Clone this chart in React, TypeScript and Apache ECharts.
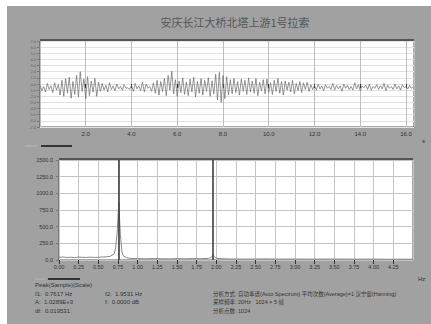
import React, { useEffect, useRef } from "react";
import * as echarts from "echarts";

const titleText = "安庆长江大桥北塔上游1号拉索";

// time signal (sampled every sampleInterval seconds)
const sampleInterval = 0.08;
const timeSignal = [
  -0.2, -1.1, -0.4, -1.3, 0.1, -0.9, -0.3, -1.4, 0.2, -1.0, -0.1,
  -1.8, 0.6, -2.0, 0.9, -1.5, 1.1, -2.3, 0.4, -1.7, 1.4, -2.1, 2.0, -1.2, 0.8, -2.4, 1.2, -1.9, 0.5, -1.3, 0.9, -2.0, 0.3,
  -1.2, 0.1, -1.0, -0.2, -1.3, 0.2, -0.9, -0.3, -1.1, 0.0, -0.8, -0.4, -1.0, -0.1, -0.7, -0.6, -0.9, -0.2, -1.2, 0.1, -0.8, -0.3, -1.1, 0.3, -1.3, 0.0, -0.7, -0.4, -1.2, 0.2,
  -1.5, 0.6, -1.8, 0.4, -1.2, 0.9, -1.9, 1.4, -1.0, 2.1, -1.6, 0.7, -2.0, 0.5, -1.4, 1.0, -1.7, 0.3, -1.9, 0.8, -1.3, 1.1, -2.1, 0.4, -1.5, 0.9, -1.8, 0.6, -1.2, 1.0, -2.0, 0.5, -1.6,
  1.6, -2.6, 1.9, -3.0, 1.4, -2.4, 1.2, -1.8,
  0.7, -1.6, 0.9, -1.4, 0.4, -1.8, 0.8, -1.2, 0.6, -1.7, 1.0, -1.3, 0.5, -1.5, 0.9, -1.9, 0.3, -1.1, 0.7, -1.6, 0.8, -1.4, 0.2, -1.7, 0.6, -1.2, 0.9, -1.5, 0.4, -1.8, 0.5, -1.0, 0.3, -1.3, 0.6, -1.6, 0.1, -1.1, 0.4, -1.4, 0.2, -0.9, 0.3, -1.2,
  -0.1, -0.9, -0.2, -1.0, 0.0, -0.8, -0.3, -1.1, -0.1, -0.7, -0.4, -0.9, 0.1, -1.0, -0.2, -0.8, -0.3, -1.2, 0.0, -0.7, -0.2, -0.9, -0.4, -1.0, 0.2, -0.8, -0.1, -1.1, -0.3, -0.6, -0.2, -0.9, 0.0, -1.0, -0.4, -0.7, -0.1, -0.9, -0.3, -0.8, 0.1, -1.1, -0.2, -0.7, -0.4, -0.9, 0.0, -0.8, -0.3, -1.0, -0.1, -0.6, -0.4, -0.8, -0.2, -0.7, -0.5,
];

// spectrum
const spectrumFreq = [
  0.0, 0.05, 0.1, 0.15, 0.2, 0.25, 0.3, 0.35, 0.4, 0.45, 0.5, 0.55, 0.6, 0.65, 0.7, 0.72, 0.74, 0.76, 0.78, 0.8, 0.82, 0.86,
  0.9, 1.0, 1.1, 1.2, 1.3, 1.4, 1.5, 1.6, 1.7, 1.8, 1.9, 1.94, 1.96, 1.98, 2.02, 2.1, 2.2, 2.4, 2.6, 2.8, 3.0, 3.2, 3.4, 3.6,
  3.8, 4.0, 4.2, 4.4, 4.5,
];
const spectrumAmp = [
  40, 45, 38, 42, 36, 44, 40, 38, 43, 39, 41, 45, 48, 55, 90, 180, 420, 860, 380, 120, 60, 35,
  25, 20, 18, 22, 19, 17, 20, 18, 21, 19, 24, 45, 70, 40, 22, 18, 15, 14, 16, 13, 15, 12, 14, 13,
  12, 13, 11, 12, 11,
];
const cursorFreqs = [0.7617, 1.9531];

const topXTicks = { min: 0, max: 16.35, interval: 2 };
const topYTicks = { min: -7, max: 7, interval: 1 };
const botXTicks = { min: 0, max: 4.5, interval: 0.25 };
const botYTicks = { min: 0, max: 1500, interval: 250 };

const infoLeft = [
  ["Peak(Sample)(Scale)", ""],
  ["f1:  0.7617 Hz", "f2:  1.9531 Hz"],
  ["A:  1.0289E+3", "f:  0.0000 dB"],
  ["df:  0.019531", ""],
];
const infoRight = [
  "分析方式: 自功率谱(Auto Spectrum) 平均次数(Average)=1 汉宁窗(Hanning)",
  "采样频率: 20Hz   1024 × 5 帧",
  "分析点数: 1024",
];

export default function App() {
  const ref = useRef<HTMLDivElement>(null);
  useEffect(() => {
    if (!ref.current) return;
    const chart = echarts.init(ref.current, null, { renderer: "svg" });
    const timeData = timeSignal.map((v, i) => [i * sampleInterval, v]);
    const specData = spectrumFreq.map((f, i) => [f, spectrumAmp[i]]);
    const font = "Liberation Sans";
    const cjk = "Noto Sans CJK SC";
    const txt = (x: number, y: number, s: string, size = 6) => ({
      type: "text",
      x,
      y,
      silent: true,
      style: { text: s, fill: "#333", font: `${size}px '${font}', '${cjk}'`, textVerticalAlign: "middle" },
    });
    const graphics: any[] = [
      { type: "rect", z: -10, shape: { x: 7, y: 6, width: 424, height: 318 }, style: { fill: "#a1a1a1" }, silent: true },
      {
        type: "text",
        x: 235,
        y: 22,
        silent: true,
        style: { text: titleText, fill: "#555", font: `11px '${cjk}'`, textAlign: "center", textVerticalAlign: "middle" },
      },
      { type: "line", shape: { x1: 41, y1: 146, x2: 72, y2: 146 }, style: { stroke: "#333", lineWidth: 2 } },
      { type: "line", shape: { x1: 25, y1: 146, x2: 37, y2: 146 }, style: { stroke: "#bbb", lineWidth: 1 } },
      { type: "line", shape: { x1: 48, y1: 279, x2: 80, y2: 279 }, style: { stroke: "#333", lineWidth: 2 } },
      { type: "line", shape: { x1: 35, y1: 279, x2: 45, y2: 279 }, style: { stroke: "#bbb", lineWidth: 1 } },
      { type: "line", shape: { x1: 40, y1: 40, x2: 414, y2: 40 }, style: { stroke: "#555", lineWidth: 2 } },
      { type: "line", shape: { x1: 59, y1: 159, x2: 413, y2: 159 }, style: { stroke: "#555", lineWidth: 2 } },
      txt(422, 141, "s", 6),
      txt(418, 279, "Hz", 6),
    ];
    const rowsY = [285, 294, 302, 311];
    infoLeft.forEach((r, i) => {
      if (r[0]) graphics.push(txt(35, rowsY[i], r[0], 6));
      if (r[1]) graphics.push(txt(105, rowsY[i], r[1], 6));
    });
    infoRight.forEach((s, i) => graphics.push(txt(213, rowsY[i + 1], s, 5.5)));

    const labelStyle = { color: "#333", fontSize: 6, fontFamily: font, margin: 4 };
    chart.setOption({
      animation: false,
      backgroundColor: "#ffffff",
      graphic: graphics,
      grid: [
        { left: 40, top: 41, width: 374, height: 86, show: true, backgroundColor: "#fff", borderColor: "#555", borderWidth: 1 },
        { left: 59, top: 160, width: 354, height: 100, show: true, backgroundColor: "#fff", borderColor: "#555", borderWidth: 1 },
      ],
      xAxis: [
        {
          type: "value",
          gridIndex: 0,
          ...topXTicks,
          axisLine: { show: false },
          axisTick: { show: true, length: 4, inside: false, lineStyle: { color: "#333" } },
          splitLine: { show: true, lineStyle: { color: "#bdbdbd", width: 1 } },
          axisLabel: {
            ...labelStyle,
            showMaxLabel: false,
            showMinLabel: false,
            formatter: (v: number) => (Math.abs(v / 2 - Math.round(v / 2)) < 1e-6 ? v.toFixed(1) : ""),
          },
        },
        {
          type: "value",
          gridIndex: 1,
          ...botXTicks,
          axisLine: { show: false },
          axisTick: { show: true, length: 4, lineStyle: { color: "#333" } },
          splitLine: { show: true, lineStyle: { color: "#c4c4c4", width: 1 } },
          axisLabel: { ...labelStyle, fontSize: 5.5, showMaxLabel: false, formatter: (v: number) => v.toFixed(2) },
        },
      ],
      yAxis: [
        {
          type: "value",
          gridIndex: 0,
          ...topYTicks,
          axisLine: { show: false },
          axisTick: { show: true, length: 3, lineStyle: { color: "#777" } },
          splitLine: { show: true, lineStyle: { color: "#e2e2e2", width: 1 } },
          axisLabel: { ...labelStyle, fontSize: 4, color: "#666", margin: 4, formatter: (v: number) => v.toFixed(1) },
        },
        {
          type: "value",
          gridIndex: 1,
          ...botYTicks,
          axisLine: { show: false },
          axisTick: { show: true, length: 3, lineStyle: { color: "#777" } },
          splitLine: { show: true, lineStyle: { color: "#c4c4c4", width: 1 } },
          axisLabel: { ...labelStyle, fontSize: 5.5, margin: 6, formatter: (v: number) => v.toFixed(1) },
        },
      ],
      series: [
        {
          type: "line",
          xAxisIndex: 0,
          yAxisIndex: 0,
          data: timeData,
          symbol: "none",
          lineStyle: { color: "#6a6a6a", width: 0.7 },
          silent: true,
        },
        {
          type: "line",
          xAxisIndex: 1,
          yAxisIndex: 1,
          data: specData,
          symbol: "none",
          lineStyle: { color: "#888", width: 1 },
          silent: true,
          markLine: {
            silent: true,
            symbol: "none",
            label: { show: false },
            lineStyle: { color: "#333", width: 1.5, type: "solid" },
            data: cursorFreqs.map((f) => ({ xAxis: f })),
          },
        },
      ],
    });
    return () => chart.dispose();
  }, []);
  return <div ref={ref} style={{ position: "fixed", left: 0, top: 0, width: 431, height: 324 }} />;
}
